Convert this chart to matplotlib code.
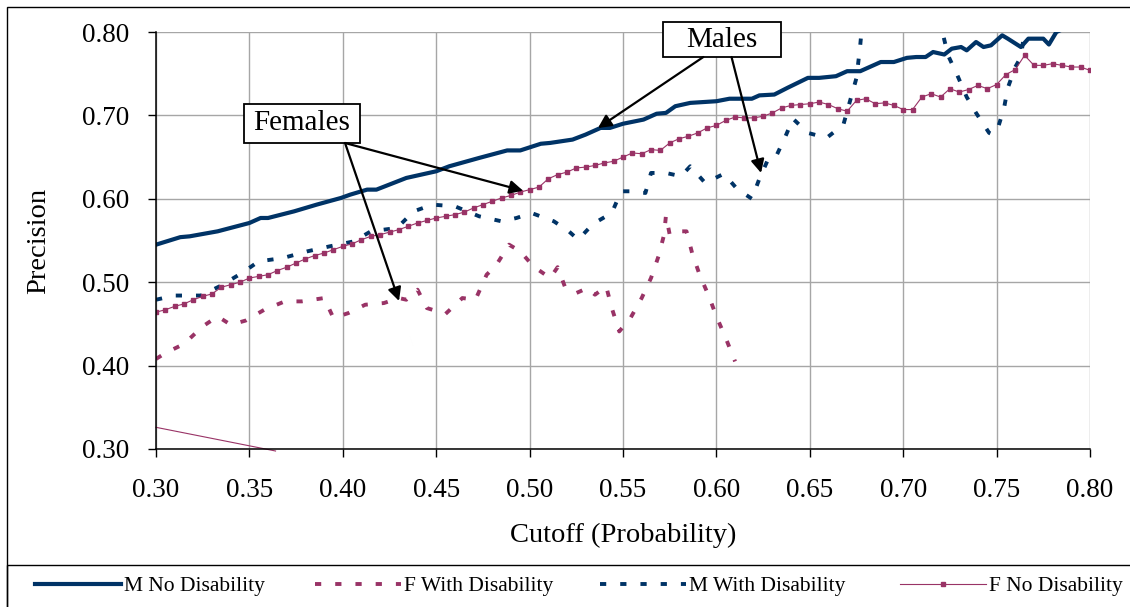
import numpy as np
import matplotlib
matplotlib.use("Agg")
import matplotlib.pyplot as plt
from matplotlib.patches import Rectangle
from matplotlib.ticker import FormatStrFormatter

plt.rcParams['font.family'] = ['Liberation Serif', 'DejaVu Serif']

NAVY = '#003366'
PLUM = '#993366'

# M No Disability
mnd_cut = [0.300, 0.313, 0.318, 0.333, 0.350, 0.356, 0.360, 0.374, 0.386, 0.399,
           0.404, 0.413, 0.418, 0.434, 0.450, 0.457, 0.473, 0.488, 0.495, 0.506,
           0.511, 0.523, 0.530, 0.538, 0.543, 0.550, 0.561, 0.568, 0.573, 0.578,
           0.586, 0.600, 0.607, 0.613, 0.619, 0.623, 0.631, 0.638, 0.649, 0.655,
           0.664, 0.670, 0.677, 0.681, 0.688, 0.695, 0.702, 0.707, 0.712, 0.716,
           0.722, 0.726, 0.731, 0.734, 0.739, 0.743, 0.747, 0.753, 0.756, 0.763,
           0.767, 0.775, 0.778, 0.782, 0.786, 0.800]
mnd_prec = [0.545, 0.554, 0.555, 0.561, 0.571, 0.577, 0.577, 0.585, 0.593, 0.601,
            0.605, 0.611, 0.611, 0.625, 0.633, 0.639, 0.649, 0.658, 0.658, 0.666,
            0.667, 0.671, 0.677, 0.685, 0.685, 0.690, 0.695, 0.702, 0.703, 0.711,
            0.715, 0.717, 0.720, 0.720, 0.720, 0.724, 0.725, 0.733, 0.745, 0.745,
            0.747, 0.753, 0.753, 0.757, 0.764, 0.764, 0.769, 0.770, 0.770, 0.776,
            0.773, 0.780, 0.782, 0.778, 0.788, 0.782, 0.784, 0.796, 0.792, 0.782,
            0.792, 0.792, 0.785, 0.800, 0.804, 0.812]

# F With Disability
fwd_cut = [0.300, 0.305, 0.315, 0.325, 0.333, 0.340, 0.348, 0.358, 0.369, 0.378,
           0.390, 0.395, 0.403, 0.412, 0.422, 0.430, 0.434, 0.440, 0.445, 0.455,
           0.464, 0.471, 0.477, 0.482, 0.489, 0.495, 0.502, 0.511, 0.515, 0.519,
           0.525, 0.531, 0.535, 0.541, 0.544, 0.548, 0.554, 0.560, 0.565, 0.569,
           0.572, 0.573, 0.575, 0.579, 0.584, 0.587, 0.591, 0.596, 0.600, 0.605,
           0.610]
fwd_prec = [0.408, 0.415, 0.426, 0.447, 0.459, 0.449, 0.454, 0.467, 0.477, 0.477,
            0.481, 0.457, 0.463, 0.473, 0.475, 0.481, 0.479, 0.491, 0.469, 0.462,
            0.481, 0.479, 0.509, 0.520, 0.545, 0.537, 0.519, 0.505, 0.518, 0.494,
            0.487, 0.493, 0.485, 0.495, 0.469, 0.441, 0.457, 0.481, 0.505, 0.531,
            0.557, 0.580, 0.557, 0.561, 0.561, 0.535, 0.509, 0.483, 0.459, 0.433,
            0.405]

# M With Disability
mwd_cut = [0.300, 0.310, 0.324, 0.334, 0.346, 0.355, 0.368, 0.381, 0.393, 0.406,
           0.415, 0.429, 0.438, 0.448, 0.460, 0.473, 0.485, 0.493, 0.501, 0.513,
           0.521, 0.526, 0.534, 0.544, 0.549, 0.555, 0.562, 0.565, 0.573, 0.581,
           0.586, 0.594, 0.604, 0.611, 0.619, 0.623, 0.628, 0.632, 0.637, 0.641,
           0.649, 0.659, 0.668, 0.671, 0.675, 0.677, 0.680, 0.715, 0.721, 0.724,
           0.729, 0.734, 0.739, 0.746, 0.748, 0.751, 0.754, 0.756, 0.760, 0.763,
           0.765, 0.770]
mwd_prec = [0.479, 0.484, 0.484, 0.495, 0.511, 0.525, 0.529, 0.537, 0.543, 0.549,
            0.561, 0.565, 0.585, 0.593, 0.591, 0.579, 0.573, 0.577, 0.583, 0.573,
            0.561, 0.551, 0.570, 0.583, 0.609, 0.609, 0.607, 0.631, 0.631, 0.627,
            0.639, 0.619, 0.630, 0.612, 0.600, 0.624, 0.649, 0.651, 0.675, 0.696,
            0.679, 0.673, 0.689, 0.713, 0.745, 0.784, 0.860, 0.845, 0.800, 0.772,
            0.748, 0.722, 0.703, 0.679, 0.677, 0.687, 0.709, 0.733, 0.758, 0.770,
            0.802, 0.840]

# F No Disability, one value every 0.005
fnd_cut = np.arange(300, 801, 5) / 1000
fnd_prec = [0.464, 0.467, 0.471, 0.474, 0.479, 0.483, 0.486, 0.494, 0.497, 0.500,
            0.505, 0.507, 0.509, 0.514, 0.518, 0.523, 0.528, 0.532, 0.535, 0.539,
            0.543, 0.546, 0.551, 0.555, 0.557, 0.560, 0.563, 0.567, 0.571, 0.574,
            0.577, 0.579, 0.581, 0.584, 0.589, 0.593, 0.597, 0.601, 0.604, 0.608,
            0.611, 0.614, 0.624, 0.629, 0.632, 0.637, 0.638, 0.640, 0.643, 0.645,
            0.650, 0.655, 0.654, 0.659, 0.658, 0.667, 0.672, 0.675, 0.679, 0.685,
            0.688, 0.694, 0.698, 0.697, 0.697, 0.699, 0.703, 0.709, 0.712, 0.713,
            0.714, 0.716, 0.713, 0.708, 0.705, 0.718, 0.720, 0.714, 0.715, 0.712,
            0.707, 0.707, 0.722, 0.726, 0.722, 0.732, 0.728, 0.731, 0.736, 0.732,
            0.737, 0.749, 0.755, 0.772, 0.760, 0.760, 0.762, 0.760, 0.758, 0.758,
            0.754]
# stray F No Disability segment at the lower left
fnd_stray_cut = [0.300, 0.364]
fnd_stray_prec = [0.326, 0.2976]

fig = plt.figure(figsize=(11.3, 6.07), dpi=100)
ax = fig.add_axes([156 / 1130, 1 - 449 / 607, 934 / 1130, 417 / 607])

l1, = ax.plot(mnd_cut, mnd_prec, '-', color=NAVY, lw=3.0, solid_joinstyle='round')
l2, = ax.plot(fwd_cut, fwd_prec, color=PLUM, lw=2.8, linestyle=(0, (1.6, 3.6)))
l3, = ax.plot(mwd_cut, mwd_prec, color=NAVY, lw=2.8, linestyle=(0, (1.6, 3.6)))
l4, = ax.plot(fnd_cut, fnd_prec, '-s', color=PLUM, lw=0.8, ms=2.6)
ax.plot(fnd_stray_cut, fnd_stray_prec, '-', color=PLUM, lw=0.8, clip_on=False)

ax.set_xlim(0.30, 0.80)
ax.set_ylim(0.30, 0.80)
ax.set_xticks(np.arange(0.30, 0.801, 0.05))
ax.set_yticks(np.arange(0.30, 0.801, 0.10))
ax.xaxis.set_major_formatter(FormatStrFormatter('%.2f'))
ax.yaxis.set_major_formatter(FormatStrFormatter('%.2f'))
ax.tick_params(axis='both', direction='out', length=6, width=1, labelsize=19.5)
ax.tick_params(axis='x', pad=15)
ax.tick_params(axis='y', pad=13)
ax.grid(True, color='#a6a6a6', lw=1)
ax.set_axisbelow(True)
for side in ('top', 'right'):
    ax.spines[side].set_visible(False)
for side in ('left', 'bottom'):
    ax.spines[side].set_linewidth(1.1)

ax.set_xlabel('Cutoff (Probability)', fontsize=20.5)
ax.set_ylabel('Precision', fontsize=20.5)
ax.xaxis.set_label_coords(0.5, -0.178)
ax.yaxis.set_label_coords(-0.112, 0.5)

# callout boxes
ax.add_patch(Rectangle((0.5714, 0.770), 0.0632, 0.042, facecolor='white',
                       edgecolor='black', lw=1.3, clip_on=False, zorder=5))
ax.text(0.603, 0.791, 'Males', fontsize=21, ha='center', va='center', zorder=6)
ax.add_patch(Rectangle((0.3471, 0.6669), 0.0621, 0.0468, facecolor='white',
                       edgecolor='black', lw=1.3, clip_on=False, zorder=5))
ax.text(0.3782, 0.6903, 'Females', fontsize=21, ha='center', va='center', zorder=6)

arrow = dict(arrowstyle='-|>', color='black', lw=1.6, mutation_scale=20,
             shrinkA=0, shrinkB=0)
ax.annotate('', xy=(0.5366, 0.6849), xytext=(0.5930, 0.770), arrowprops=arrow, zorder=6)
ax.annotate('', xy=(0.6239, 0.6310), xytext=(0.6081, 0.770), arrowprops=arrow, zorder=6)
ax.annotate('', xy=(0.4965, 0.6097), xytext=(0.4012, 0.6669), arrowprops=arrow, zorder=6)
ax.annotate('', xy=(0.4301, 0.4775), xytext=(0.4012, 0.6669), arrowprops=arrow, zorder=6)

# chart border and legend frame
fig.patches.append(Rectangle((7 / 1130, -0.1), 1.1, 1.1 - 7 / 607,
                             transform=fig.transFigure, fill=False,
                             edgecolor='black', lw=1))
fig.patches.append(Rectangle((7 / 1130, -0.1), 1.1, 0.1 + 1 - 565 / 607,
                             transform=fig.transFigure, fill=False,
                             edgecolor='black', lw=1))

entries = [(l1, 'M No Disability', 35), (l2, 'F With Disability', 315),
           (l3, 'M With Disability', 600), (l4, 'F No Disability', 900)]
for handle, label, xpx in entries:
    fig.legend([handle], [label], loc='center left',
               bbox_to_anchor=(xpx / 1130, 1 - 586 / 607), frameon=False,
               borderpad=0, borderaxespad=0, handlelength=4.0,
               handletextpad=0.15, fontsize=15.5)

fig.savefig('out.png', dpi=100)
